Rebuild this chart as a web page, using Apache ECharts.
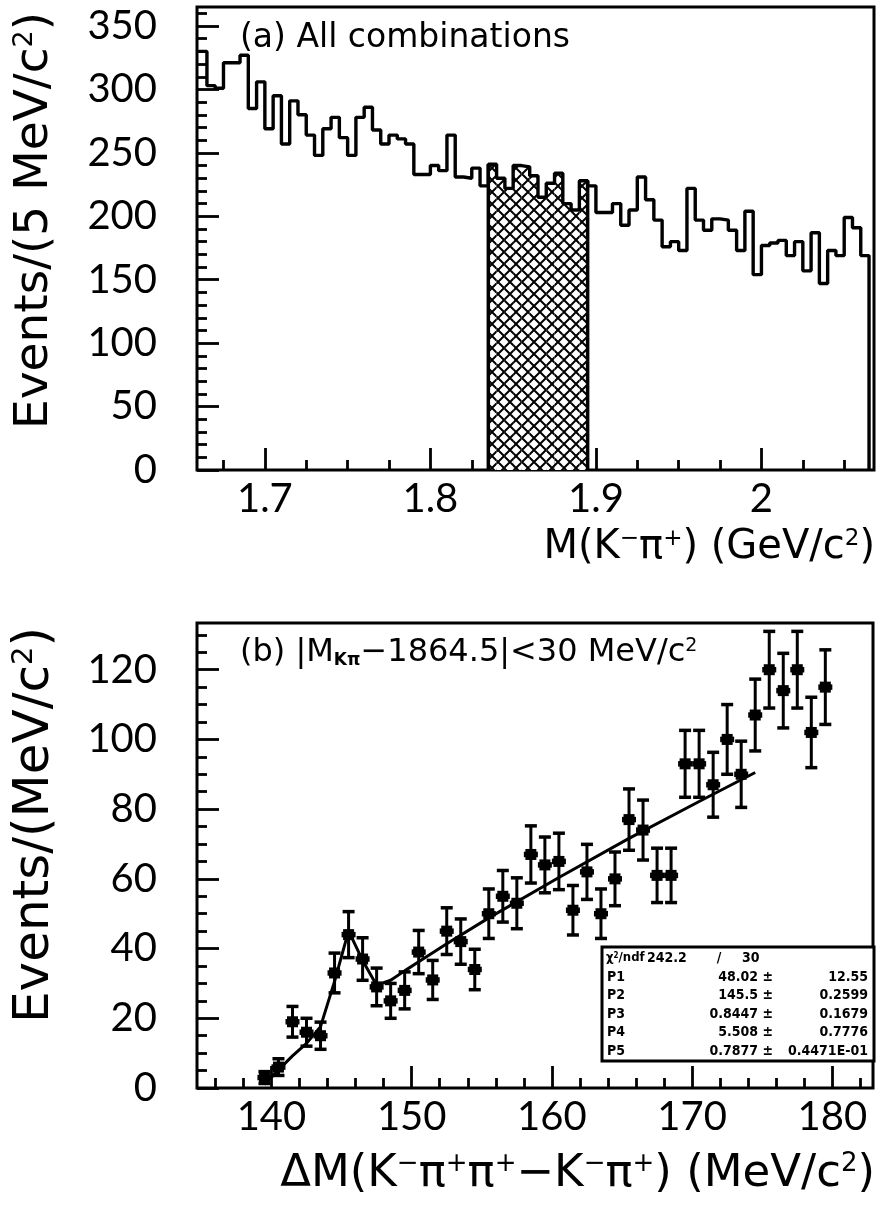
<!DOCTYPE html>
<html><head><meta charset="utf-8">
<script src="https://cdn.jsdelivr.net/npm/echarts@6/dist/echarts.min.js"></script>
<style>html,body{margin:0;padding:0;background:#fff}#c{width:878px;height:1207px}</style>
</head><body><div id="c"></div>
<script>
// ---------- DATA ----------
// (a) M(K-pi+) histogram, 5 MeV bins starting at 1.660 GeV
const histStart = 1.66;
const binWidth = 0.005;
const histCounts = [330,303,301,321,321,327,285,306,269,295,
  257,291,280,264,248,269,278,262,248,278,
  286,268,257,264,261,257,233,233,240,236,
  264,231,230,238,224,241,230,222,240,239,
  232,215,226,234,210,205,228,224,203,203,
  210,193,205,231,213,197,176,180,173,222,
  197,189,198,197,189,173,204,154,177,179,
  181,169,180,157,187,147,173,169,199,191,169];
const hatchRange = [1.835, 1.895];
const topXMajor = [1.7, 1.8, 1.9, 2.0];
const topXLabels = ['1.7', '1.8', '1.9', '2'];
const topXMinor = [1.675,1.725,1.75,1.775,1.825,1.85,1.875,1.925,1.95,1.975,2.025,2.05];
const topYMajor = [0,50,100,150,200,250,300,350];
const topYMinor = [10,20,30,40,60,70,80,90,110,120,130,140,160,170,180,190,210,220,230,240,260,270,280,290,310,320,330,340,360];

// (b) Delta M distribution, 1 MeV bins
const dmCenters = [139.5,140.5,141.5,142.5,143.5,144.5,145.5,146.5,147.5,148.5,
  149.5,150.5,151.5,152.5,153.5,154.5,155.5,156.5,157.5,158.5,
  159.5,160.5,161.5,162.5,163.5,164.5,165.5,166.5,167.5,168.5,
  169.5,170.5,171.5,172.5,173.5,174.5,175.5,176.5,177.5,178.5,179.5];
const dmCounts = [3,6,19,16,15,33,44,37,29,25,
  28,39,31,45,42,34,50,55,53,67,
  64,65,51,62,50,60,77,74,61,61,
  93,93,87,100,90,107,120,114,120,102,115];
const dmErrors = [1.7,2.4,4.4,4,3.9,5.7,6.6,6.1,5.4,5,
  5.3,6.2,5.6,6.7,6.5,5.8,7.1,7.4,7.3,8.2,
  8,8.1,7.1,7.9,7.1,7.7,8.8,8.6,7.8,7.8,
  9.6,9.6,9.3,10,9.5,10.3,11,10.7,11,10.1,10.7];
const dmHalfBin = 0.5;
// fit curve (drawn through bin centres)
const fitX = [139.5,140.5,141.5,142.5,143.5,144.5,145.5,146.5,147.5,148.5,149.5,150.5,152.5,155.5,160.5,165.5,170.5,174.5];
const fitY = [1,5.2,9.2,12.8,17.6,30.6,45.1,36.6,29.5,30.9,33.6,36.2,41.4,48.8,60.4,71.6,82.2,90.5];
const botXMajor = [140,150,160,170,180];
const botXMinor = [136,138,142,144,146,148,152,154,156,158,162,164,166,168,172,174,176,178,182];
const botYMajor = [0,20,40,60,80,100,120];
const botYMinor = [5,10,15,25,30,35,45,50,55,65,70,75,85,90,95,105,110,115,125,130];

const statsHeader = ['242.2', '/', '30'];
const statsNames = ['P1','P2','P3','P4','P5'];
const statsValues = ['48.02 ±','145.5 ±','0.8447 ±','5.508 ±','0.7877 ±'];
const statsErrors = ['12.55','0.2599','0.1679','0.7776','0.4471E-01'];

// ---------- RENDER ----------
const F = 'Lato, "Open Sans", "DejaVu Sans", sans-serif';
const FT = '"DejaVu Sans", Lato, sans-serif';
const FS = '"DejaVu Sans Condensed", "Liberation Sans Narrow", "DejaVu Sans", sans-serif';
const chart = echarts.init(document.getElementById('c'), null, {renderer: 'canvas', width: 878, height: 1207});

function hatchPattern() {
  const s = 12;
  const cv = document.createElement('canvas'); cv.width = s; cv.height = s;
  const ctx = cv.getContext('2d');
  ctx.fillStyle = '#fff'; ctx.fillRect(0, 0, s, s);
  ctx.strokeStyle = '#000'; ctx.lineWidth = 2;
  ctx.beginPath();
  ctx.moveTo(-1, -1); ctx.lineTo(s + 1, s + 1);
  ctx.moveTo(s + 1, -1); ctx.lineTo(-1, s + 1);
  ctx.stroke();
  return cv;
}

const histLine = histCounts.map((c, i) => [histStart + i * binWidth, c]);
histLine.push([histStart + histCounts.length * binWidth, 0]);
const hatchBins = [];
histCounts.forEach((c, i) => {
  const x0 = histStart + i * binWidth;
  if (x0 >= hatchRange[0] - 1e-9 && x0 < hatchRange[1] - 1e-9) hatchBins.push([x0, x0 + binWidth, c]);
});
const hatchEdges = [[hatchRange[0], hatchBins[0][2]], [hatchRange[1], hatchBins[hatchBins.length - 1][2]]];

function axisCommon(extra) {
  return Object.assign({type: 'value', axisLine: {show: false}, splitLine: {show: false}}, extra);
}
const labelStyle = {color: '#000', fontFamily: F, fontSize: 40};
const tickLine = {color: '#000', width: 2.8};

const option = {
  animation: false,
  backgroundColor: '#fff',
  grid: [
    {left: 197, top: 7, width: 677, height: 463, show: true, borderColor: '#000', borderWidth: 3},
    {left: 197, top: 623, width: 676, height: 465, show: true, borderColor: '#000', borderWidth: 3}
  ],
  xAxis: [
    axisCommon({gridIndex: 0, min: 1.659, max: 2.068, position: 'bottom',
      axisTick: {inside: true, length: 22, lineStyle: tickLine, customValues: topXMajor},
      axisLabel: Object.assign({margin: 9, customValues: topXMajor,
        formatter: v => topXLabels[topXMajor.findIndex(t => Math.abs(t - v) < 1e-9)]}, labelStyle)}),
    axisCommon({gridIndex: 0, min: 1.659, max: 2.068, position: 'bottom',
      axisTick: {inside: true, length: 10, lineStyle: tickLine, customValues: topXMinor},
      axisLabel: {show: false}}),
    axisCommon({gridIndex: 1, min: 134.69, max: 182.9, position: 'bottom',
      axisTick: {inside: true, length: 22, lineStyle: tickLine, customValues: botXMajor},
      axisLabel: Object.assign({margin: 9, customValues: botXMajor}, labelStyle)}),
    axisCommon({gridIndex: 1, min: 134.69, max: 182.9, position: 'bottom',
      axisTick: {inside: true, length: 10, lineStyle: tickLine, customValues: botXMinor},
      axisLabel: {show: false}})
  ],
  yAxis: [
    axisCommon({gridIndex: 0, min: 0, max: 365, position: 'left',
      axisTick: {inside: true, length: 22, lineStyle: tickLine, customValues: topYMajor},
      axisLabel: Object.assign({margin: 40, customValues: topYMajor}, labelStyle)}),
    axisCommon({gridIndex: 0, min: 0, max: 365, position: 'left',
      axisTick: {inside: true, length: 10, lineStyle: tickLine, customValues: topYMinor},
      axisLabel: {show: false}}),
    axisCommon({gridIndex: 1, min: 0, max: 133.4, position: 'left',
      axisTick: {inside: true, length: 22, lineStyle: tickLine, customValues: botYMajor},
      axisLabel: Object.assign({margin: 40, customValues: botYMajor}, labelStyle)}),
    axisCommon({gridIndex: 1, min: 0, max: 133.4, position: 'left',
      axisTick: {inside: true, length: 10, lineStyle: tickLine, customValues: botYMinor},
      axisLabel: {show: false}})
  ],
  series: [
    {type: 'custom', xAxisIndex: 0, yAxisIndex: 0, data: hatchBins, z: 2,
      renderItem: (p, api) => {
        const a = api.coord([api.value(0), api.value(2)]);
        const b = api.coord([api.value(1), 0]);
        return {type: 'rect', shape: {x: a[0], y: a[1], width: b[0] - a[0], height: b[1] - a[1]},
          style: {fill: {image: hatchPattern(), repeat: 'repeat'}, stroke: null}};
      }},
    {type: 'custom', xAxisIndex: 0, yAxisIndex: 0, data: hatchEdges, z: 3,
      renderItem: (p, api) => {
        const a = api.coord([api.value(0), api.value(1)]);
        const b = api.coord([api.value(0), 0]);
        return {type: 'line', shape: {x1: a[0], y1: a[1], x2: b[0], y2: b[1]}, style: {stroke: '#000', lineWidth: 3.5}};
      }},
    {type: 'line', xAxisIndex: 0, yAxisIndex: 0, data: histLine, step: 'end', symbol: 'none', z: 4,
      lineStyle: {color: '#000', width: 3.4}},
    {type: 'line', xAxisIndex: 2, yAxisIndex: 2, data: fitX.map((x, i) => [x, fitY[i]]), symbol: 'none', z: 4,
      lineStyle: {color: '#000', width: 3}},
    {type: 'custom', xAxisIndex: 2, yAxisIndex: 2, z: 5,
      data: dmCenters.map((x, i) => [x, dmCounts[i], dmErrors[i]]),
      renderItem: (p, api) => {
        const x = api.value(0), y = api.value(1), e = api.value(2);
        const c = api.coord([x, y]);
        const hi = api.coord([x, y + e]), lo = api.coord([x, y - e]);
        const l = api.coord([x - dmHalfBin, y]), r = api.coord([x + dmHalfBin, y]);
        const st = w => ({stroke: '#000', lineWidth: w});
        const cap = 6;
        return {type: 'group', children: [
          {type: 'line', shape: {x1: c[0], y1: hi[1], x2: c[0], y2: lo[1]}, style: st(3)},
          {type: 'line', shape: {x1: c[0] - cap, y1: hi[1], x2: c[0] + cap, y2: hi[1]}, style: st(3.5)},
          {type: 'line', shape: {x1: c[0] - cap, y1: lo[1], x2: c[0] + cap, y2: lo[1]}, style: st(3.5)},
          {type: 'line', shape: {x1: l[0], y1: c[1], x2: r[0], y2: c[1]}, style: st(5.5)},
          {type: 'rect', shape: {x: c[0] - 5.5, y: c[1] - 5.5, width: 11, height: 11}, style: {fill: '#000'}}
        ]};
      }}
  ],
  graphic: [
    {type: 'text', x: 35, y: 12, rotation: Math.PI / 2, z: 10,
      style: {text: 'Events/(5 MeV/c{s|2})', fontFamily: FT, fontSize: 47, fill: '#000', align: 'right', verticalAlign: 'middle',
        rich: {s: {fontFamily: FT, fontSize: 27, verticalAlign: 'top', fill: '#000'}}}},
    {type: 'text', x: 35, y: 627, rotation: Math.PI / 2, z: 10,
      style: {text: 'Events/(MeV/c{s|2})', fontFamily: FT, fontSize: 50, fill: '#000', align: 'right', verticalAlign: 'middle',
        rich: {s: {fontFamily: FT, fontSize: 29, verticalAlign: 'top', fill: '#000'}}}},
    {type: 'text', x: 875, y: 548, z: 10,
      style: {text: 'M(K{s|−}π{s|+}) (GeV/c{s|2})', fontFamily: FT, fontSize: 40, fill: '#000', align: 'right', verticalAlign: 'middle',
        rich: {s: {fontFamily: FT, fontSize: 23, verticalAlign: 'top', fill: '#000'}}}},
    {type: 'text', x: 875, y: 1174, z: 10,
      style: {text: 'ΔM(K{s|−}π{s|+}π{s|+}−K{s|−}π{s|+}) (MeV/c{s|2})', fontFamily: FT, fontSize: 45, fill: '#000', align: 'right', verticalAlign: 'middle',
        rich: {s: {fontFamily: FT, fontSize: 26, verticalAlign: 'top', fill: '#000'}}}},
    {type: 'text', x: 240, y: 38, z: 10,
      style: {text: '(a) All combinations', fontFamily: FT, fontSize: 33, fill: '#000', align: 'left', verticalAlign: 'middle'}},
    {type: 'text', x: 240, y: 653, z: 10,
      style: {text: '(b) |M{b|Kπ}−1864.5|<30 MeV/c{s|2}', fontFamily: FT, fontSize: 32, fill: '#000', align: 'left', verticalAlign: 'middle',
        rich: {s: {fontFamily: FT, fontSize: 19, verticalAlign: 'top', fill: '#000'},
               b: {fontFamily: FT, fontSize: 17, fontWeight: 'bold', verticalAlign: 'bottom', fill: '#000'}}}},
    {type: 'group', z: 20, children: [
      {type: 'rect', shape: {x: 602, y: 947, width: 272, height: 114}, style: {fill: '#fff', stroke: '#000', lineWidth: 3}},
      {type: 'text', x: 606, y: 958, style: {text: 'χ{s|2}/ndf', fontFamily: FS, fontSize: 13, fontWeight: 'bold', fill: '#000', verticalAlign: 'middle',
        rich: {s: {fontFamily: FS, fontSize: 8, fontWeight: 'bold', verticalAlign: 'top', fill: '#000'}}}},
      {type: 'text', x: 647, y: 958, style: {text: statsHeader[0], fontFamily: FS, fontSize: 14, fontWeight: 'bold', fill: '#000', verticalAlign: 'middle'}},
      {type: 'text', x: 719, y: 958, style: {text: statsHeader[1], fontFamily: FS, fontSize: 14, fontWeight: 'bold', fill: '#000', align: 'center', verticalAlign: 'middle'}},
      {type: 'text', x: 742, y: 958, style: {text: statsHeader[2], fontFamily: FS, fontSize: 14, fontWeight: 'bold', fill: '#000', verticalAlign: 'middle'}}
    ].concat(...statsNames.map((n, i) => {
      const y = 977 + i * 18.6;
      const base = {fontFamily: FS, fontSize: 14, fontWeight: 'bold', fill: '#000', verticalAlign: 'middle'};
      return [
        {type: 'text', x: 607, y: y, style: Object.assign({text: n, align: 'left'}, base)},
        {type: 'text', x: 773, y: y, style: Object.assign({text: statsValues[i], align: 'right'}, base)},
        {type: 'text', x: 868, y: y, style: Object.assign({text: statsErrors[i], align: 'right'}, base)}
      ];
    }))}
  ]
};
chart.setOption(option);
</script></body></html>
